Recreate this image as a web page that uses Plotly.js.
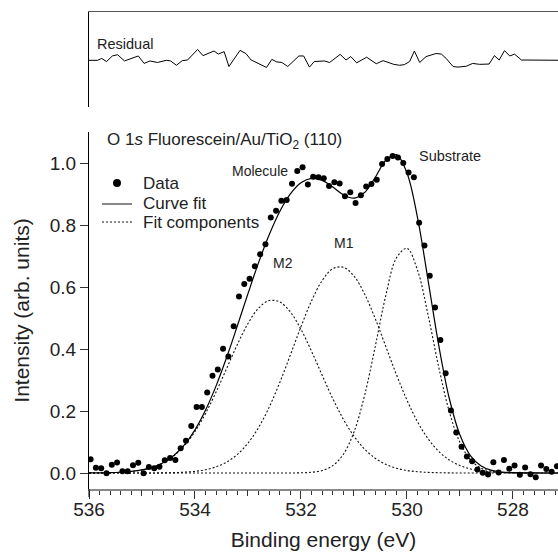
<!DOCTYPE html>
<html>
<head>
<meta charset="utf-8">
<script src="https://cdn.plot.ly/plotly-3.0.1.min.js"></script>
<style>
html,body{margin:0;padding:0;background:#fff;}
#chart{width:558px;height:556px;}
</style>
</head>
<body>
<div id="chart"></div>
<script>
// Measured data points (binding energy in eV, intensity in arb. units)
const dataEnergy = [535.97,535.87,535.77,535.67,535.57,535.47,535.37,535.27,535.17,535.07,
  534.97,534.87,534.77,534.67,534.57,534.47,534.37,534.27,534.17,534.07,
  533.97,533.87,533.77,533.67,533.57,533.47,533.37,533.27,533.17,533.07,
  532.97,532.87,532.77,532.67,532.57,532.47,532.37,532.27,532.17,532.07,
  531.97,531.87,531.77,531.67,531.57,531.47,531.37,531.27,531.17,531.07,
  530.97,530.87,530.77,530.67,530.57,530.47,530.37,530.27,530.17,530.07,
  529.97,529.87,529.77,529.67,529.57,529.47,529.37,529.27,529.17,529.07,
  528.97,528.87,528.77,528.67,528.57,528.47,528.37,528.27,528.17,528.07,
  527.97,527.87,527.77,527.67,527.57,527.47,527.37,527.27,527.17];
const dataIntensity = [0.044,0.017,0.015,-0.001,0.027,0.034,0.006,0.006,0.025,0.033,
  -0.001,0.019,0.015,0.020,0.041,0.048,0.042,0.080,0.104,0.152,
  0.213,0.213,0.260,0.314,0.334,0.401,0.376,0.473,0.569,0.610,
  0.627,0.667,0.706,0.738,0.824,0.846,0.878,0.881,0.933,0.974,
  0.986,0.931,0.956,0.954,0.951,0.926,0.938,0.934,0.893,0.906,
  0.871,0.896,0.924,0.932,0.946,0.997,1.013,1.023,1.018,1.000,
  0.969,0.954,0.807,0.734,0.636,0.534,0.429,0.322,0.202,0.131,
  0.085,0.053,0.038,0.011,0.001,-0.005,0.035,0.002,0.042,0.014,
  0.024,-0.006,0.018,-0.004,-0.014,0.024,0.013,0.004,0.022];

// Fit curves
const fitEnergy = [536.0,535.8,535.6,535.4,535.2,535.0,534.8,534.6,534.4,534.2,
  534.0,533.8,533.6,533.4,533.2,533.0,532.8,532.6,532.4,532.2,
  532.0,531.8,531.6,531.4,531.2,531.0,530.8,530.6,530.4,530.2,
  530.0,529.8,529.6,529.4,529.2,529.0,528.8,528.6,528.4,528.2,
  528.0,527.8,527.6,527.4,527.2,527.0];
const curveFit = [0.0002,0.0005,0.0011,0.0024,0.0050,0.0100,0.0187,0.0334,0.0566,0.0910,
  0.1393,0.2030,0.2819,0.3740,0.4749,0.5786,0.6787,0.7687,0.8438,0.9004,
  0.9362,0.9503,0.9441,0.9227,0.8977,0.8866,0.9047,0.9532,1.0085,1.0269,
  0.9680,0.8227,0.6201,0.4115,0.2395,0.1224,0.0554,0.0224,0.0083,0.0029,
  0.0010,0.0004,0.0001,0,0,0];
const compM2 = [0.0002,0.0005,0.0011,0.0024,0.0050,0.0099,0.0185,0.0329,0.0554,0.0884,
  0.1339,0.1923,0.2619,0.3384,0.4148,0.4822,0.5318,0.5562,0.5518,0.5193,
  0.4635,0.3924,0.3152,0.2401,0.1734,0.1189,0.0773,0.0477,0.0279,0.0155,
  0.0081,0.0041,0.0019,0.0009,0.0004,0.0001,0,0,0,0,
  0,0,0,0,0,0];
const compM1 = [0,0,0,0,0,0.0001,0.0002,0.0005,0.0012,0.0026,
  0.0054,0.0107,0.0200,0.0356,0.0601,0.0964,0.1469,0.2125,0.2920,0.3810,
  0.4721,0.5555,0.6208,0.6588,0.6639,0.6354,0.5775,0.4984,0.4085,0.3180,
  0.2351,0.1650,0.1100,0.0697,0.0419,0.0239,0.0130,0.0067,0.0033,0.0015,
  0.0007,0.0003,0.0001,0,0,0];
const compSubstrate = [0,0,0,0,0,0,0,0,0,0,
  0,0,0,0,0,0,0,0,0,0.0001,
  0.0006,0.0024,0.0081,0.0238,0.0604,0.1323,0.2499,0.4071,0.5721,0.6934,
  0.7248,0.6536,0.5082,0.3409,0.1972,0.0984,0.0424,0.0157,0.0050,0.0014,
  0.0003,0.0001,0,0,0,0];

// Residual trace
const residualEnergy = [536.0,535.84,535.76,535.67,535.56,535.46,535.33,535.23,535.07,534.96,
  534.85,534.71,534.54,534.46,534.35,534.24,534.14,533.95,533.85,533.64,
  533.56,533.45,533.36,533.15,533.04,532.94,532.75,532.65,532.55,532.46,
  532.36,532.25,532.04,531.95,531.84,531.75,531.56,531.46,531.26,531.15,
  531.06,530.95,530.76,530.58,530.45,530.25,530.14,530.05,529.95,529.86,
  529.76,529.64,529.45,529.35,529.26,529.13,529.04,528.88,528.76,528.63,
  528.45,528.35,528.26,528.16,528.06,527.97,527.84,527.0];
const residualValue = [0,0,0.006,-0.004,0.014,0.018,-0.002,0.005,0.014,-0.01,
  -0.002,-0.007,0,-0.002,-0.016,-0.001,0.001,0.035,0.015,0.03,
  0.02,0.028,-0.02,0.032,0.022,0.001,-0.013,-0.023,0.003,-0.005,
  -0.007,-0.02,0.014,0.014,-0.022,-0.004,-0.002,-0.007,0.019,0.001,
  0.012,-0.008,0.01,-0.011,-0.001,-0.013,-0.016,-0.014,-0.004,0.03,
  -0.007,0.012,0.022,0.02,0.006,-0.02,-0.022,-0.019,-0.01,-0.013,
  -0.012,0.015,0.001,0.031,0.014,0.02,0.001,0];

// Tick labels and legend labels
const xTickVals = [536,534,532,530,528];
const xTickText = ['536','534','532','530','528'];
const xMidTickVals = [535,533,531,529];
const yTickVals = [0,0.2,0.4,0.6,0.8,1.0];
const yTickText = ['0.0','0.2','0.4','0.6','0.8','1.0'];
const legendLabels = ['Data','Curve fit','Fit components'];

const FONT = '"Liberation Sans", Arial, Helvetica, sans-serif';
const TXT = '#222';
const xRange = [536, 527.15];

const dotLine = {color:'#111', width:1.1, dash:'2px,2px', shape:'spline', smoothing:1};

const traces = [
  {x:fitEnergy, y:compM2, type:'scatter', mode:'lines', line:dotLine, showlegend:false, hoverinfo:'skip', name:'M2'},
  {x:fitEnergy, y:compM1, type:'scatter', mode:'lines', line:dotLine, showlegend:false, hoverinfo:'skip', name:'M1'},
  {x:fitEnergy, y:compSubstrate, type:'scatter', mode:'lines', line:dotLine, showlegend:false, hoverinfo:'skip', name:'Substrate'},
  {x:fitEnergy, y:curveFit, type:'scatter', mode:'lines', line:{color:'#000', width:1.2, shape:'spline', smoothing:1}, showlegend:false, hoverinfo:'skip', name:'Curve fit'},
  {x:dataEnergy, y:dataIntensity, type:'scatter', mode:'markers', marker:{color:'#000', size:6, symbol:'circle'}, showlegend:false, name:'Data'},
  {x:residualEnergy, y:residualValue, xaxis:'x2', yaxis:'y2', type:'scatter', mode:'lines', line:{color:'#000', width:1}, showlegend:false, hoverinfo:'skip', name:'Residual'},
  {x:[null], y:[null], xaxis:'x3', yaxis:'y', type:'scatter', mode:'markers', showlegend:false, hoverinfo:'skip'}
];

// legend geometry (paper coordinates)
const legX = 0.1109;
const legRows = [0.6415, 0.5975, 0.5597];

const layout = {
  width:558, height:556,
  margin:{l:89, r:0, t:12, b:67, pad:0},
  paper_bgcolor:'#fff', plot_bgcolor:'rgba(0,0,0,0)',
  font:{family:FONT, color:TXT, size:19},
  showlegend:false,
  xaxis:{domain:[0,1], anchor:'y', range:xRange, tickmode:'array', tickvals:xTickVals, ticktext:xTickText,
         ticks:'outside', ticklen:8, tickwidth:1, tickcolor:'#333', ticklabelstandoff:-6,
         showline:true, linecolor:'#888', linewidth:2, showgrid:false, zeroline:false,
         minor:{tickmode:'linear', tick0:528, dtick:0.2, ticks:'outside', ticklen:4, tickwidth:1, tickcolor:'#333', showgrid:false},
         tickfont:{size:19, color:TXT, family:FONT},
         title:{text:'Binding energy (eV)', font:{size:21, color:TXT, family:FONT}, standoff:14}},
  xaxis3:{overlaying:'x', anchor:'y', range:xRange, tickmode:'array', tickvals:xMidTickVals,
          ticks:'outside', ticklen:6, tickwidth:1, tickcolor:'#333', showticklabels:false,
          showline:false, showgrid:false, zeroline:false},
  yaxis:{domain:[0,0.7484], anchor:'x', range:[-0.0516,1.1], tickmode:'array', tickvals:yTickVals, ticktext:yTickText,
         ticks:'outside', ticklen:8, tickwidth:1, tickcolor:'#333',
         showline:true, linecolor:'#000', linewidth:1, showgrid:false, zeroline:false,
         tickfont:{size:19, color:TXT, family:FONT},
         title:{text:'Intensity (arb. units)', font:{size:21, color:TXT, family:FONT}, standoff:14}},
  xaxis2:{anchor:'y2', side:'top', range:xRange, showline:true, linecolor:'#555', linewidth:1,
          ticks:'', showticklabels:false, showgrid:false, zeroline:false},
  yaxis2:{domain:[0.8008,1], anchor:'x2', range:[-0.1506,0.1558], showline:true, linecolor:'#000', linewidth:1,
          ticks:'', showticklabels:false, showgrid:false, zeroline:false},
  shapes:[
    {type:'line', xref:'paper', yref:'paper', x0:0, x1:0, y0:0, y1:-0.0168, line:{color:'#000', width:1}},
    // legend symbols
    {type:'circle', xref:'paper', yref:'paper', x0:0.0512, x1:0.0682, y0:legRows[0]-0.0084, y1:legRows[0]+0.0084, fillcolor:'#000', line:{width:0}},
    {type:'line', xref:'paper', yref:'paper', x0:0.0277, x1:0.0917, y0:legRows[1], y1:legRows[1], line:{color:'#888', width:2}},
    {type:'line', xref:'paper', yref:'paper', x0:0.0277, x1:0.0917, y0:legRows[2], y1:legRows[2], line:{color:'#111', width:1, dash:'2px,2px'}}
  ],
  annotations:[
    {text:'O 1<i>s</i> Fluorescein/Au/TiO<sub>2</sub> (110)', xref:'x', yref:'y', x:535.70, y:1.071, xanchor:'left', yanchor:'middle', showarrow:false, font:{size:17, color:TXT, family:FONT}},
    {text:'Molecule', xref:'x', yref:'y', x:532.77, y:0.974, xanchor:'center', yanchor:'middle', showarrow:false, font:{size:14, color:TXT, family:FONT}},
    {text:'Substrate', xref:'x', yref:'y', x:529.19, y:1.023, xanchor:'center', yanchor:'middle', showarrow:false, font:{size:14.5, color:TXT, family:FONT}},
    {text:'M1', xref:'x', yref:'y', x:531.18, y:0.742, xanchor:'center', yanchor:'middle', showarrow:false, font:{size:14, color:TXT, family:FONT}},
    {text:'M2', xref:'x', yref:'y', x:532.34, y:0.677, xanchor:'center', yanchor:'middle', showarrow:false, font:{size:14, color:TXT, family:FONT}},
    {text:'Residual', xref:'x2', yref:'y2', x:535.89, y:0.0526, xanchor:'left', yanchor:'middle', showarrow:false, font:{size:14.5, color:TXT, family:FONT}},
    {text:legendLabels[0], xref:'paper', yref:'paper', x:legX, y:legRows[0], xanchor:'left', yanchor:'middle', showarrow:false, font:{size:17, color:TXT, family:FONT}},
    {text:legendLabels[1], xref:'paper', yref:'paper', x:legX, y:legRows[1], xanchor:'left', yanchor:'middle', showarrow:false, font:{size:17, color:TXT, family:FONT}},
    {text:legendLabels[2], xref:'paper', yref:'paper', x:legX, y:legRows[2], xanchor:'left', yanchor:'middle', showarrow:false, font:{size:17, color:TXT, family:FONT}}
  ]
};

Plotly.newPlot('chart', traces, layout, {displayModeBar:false, staticPlot:true});
</script>
</body>
</html>
